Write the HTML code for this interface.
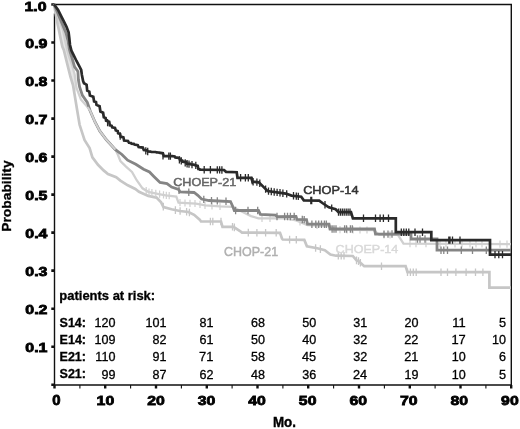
<!DOCTYPE html>
<html><head><meta charset="utf-8"><style>
html,body{margin:0;padding:0;background:#fff;width:520px;height:429px;overflow:hidden;}
body{position:relative;font-family:"Liberation Sans",sans-serif;}
</style></head><body>
<svg width="520" height="429" viewBox="0 0 520 429" style="position:absolute;left:0;top:0;filter:grayscale(1) blur(0.35px)">
<g font-family="Liberation Sans, sans-serif">
<text transform="translate(24.40,11.36) scale(1.1605,1)" font-size="13.70" font-weight="bold" fill="#000" stroke="#000" stroke-width="0.8">1.0</text>
<text transform="translate(25.30,47.89) scale(1.2648,1)" font-size="12.57" font-weight="bold" fill="#000" stroke="#000" stroke-width="0.8">0.9</text>
<text transform="translate(25.30,85.91) scale(1.2648,1)" font-size="12.57" font-weight="bold" fill="#000" stroke="#000" stroke-width="0.8">0.8</text>
<text transform="translate(25.30,123.93) scale(1.2648,1)" font-size="12.57" font-weight="bold" fill="#000" stroke="#000" stroke-width="0.8">0.7</text>
<text transform="translate(25.30,161.95) scale(1.2648,1)" font-size="12.57" font-weight="bold" fill="#000" stroke="#000" stroke-width="0.8">0.6</text>
<text transform="translate(25.30,199.97) scale(1.2648,1)" font-size="12.57" font-weight="bold" fill="#000" stroke="#000" stroke-width="0.8">0.5</text>
<text transform="translate(25.30,237.99) scale(1.2648,1)" font-size="12.57" font-weight="bold" fill="#000" stroke="#000" stroke-width="0.8">0.4</text>
<text transform="translate(25.30,276.00) scale(1.2666,1)" font-size="12.55" font-weight="bold" fill="#000" stroke="#000" stroke-width="0.8">0.3</text>
<text transform="translate(25.30,314.03) scale(1.2648,1)" font-size="12.57" font-weight="bold" fill="#000" stroke="#000" stroke-width="0.8">0.2</text>
<text transform="translate(25.30,352.05) scale(1.2648,1)" font-size="12.57" font-weight="bold" fill="#000" stroke="#000" stroke-width="0.8">0.1</text>
<text transform="translate(52.30,405.36) scale(1.0785,1)" font-size="13.84" font-weight="bold" fill="#000" stroke="#000" stroke-width="0.8">0</text>
<text transform="translate(96.60,405.36) scale(1.1552,1)" font-size="13.70" font-weight="bold" fill="#000" stroke="#000" stroke-width="0.8">10</text>
<text transform="translate(147.16,405.36) scale(1.1552,1)" font-size="13.70" font-weight="bold" fill="#000" stroke="#000" stroke-width="0.8">20</text>
<text transform="translate(197.72,405.35) scale(1.1569,1)" font-size="13.68" font-weight="bold" fill="#000" stroke="#000" stroke-width="0.8">30</text>
<text transform="translate(248.28,405.36) scale(1.1552,1)" font-size="13.70" font-weight="bold" fill="#000" stroke="#000" stroke-width="0.8">40</text>
<text transform="translate(298.84,405.36) scale(1.1552,1)" font-size="13.70" font-weight="bold" fill="#000" stroke="#000" stroke-width="0.8">50</text>
<text transform="translate(349.40,405.36) scale(1.1552,1)" font-size="13.70" font-weight="bold" fill="#000" stroke="#000" stroke-width="0.8">60</text>
<text transform="translate(399.96,405.36) scale(1.1552,1)" font-size="13.70" font-weight="bold" fill="#000" stroke="#000" stroke-width="0.8">70</text>
<text transform="translate(450.52,405.36) scale(1.1552,1)" font-size="13.70" font-weight="bold" fill="#000" stroke="#000" stroke-width="0.8">80</text>
<text transform="translate(501.08,405.36) scale(1.1552,1)" font-size="13.70" font-weight="bold" fill="#000" stroke="#000" stroke-width="0.8">90</text>
<text transform="translate(273.00,427.46) scale(0.9231,1)" font-size="14.47" font-weight="bold" fill="#000" stroke="#000" stroke-width="0.4">Mo.</text>
<text transform="translate(11.39,231.75) rotate(-90) scale(1.0410,1)" font-size="13.29" font-weight="bold" fill="#000" stroke="#000" stroke-width="0.3">Probability</text>
<text transform="translate(59.35,299.99) scale(1.0527,1)" font-size="12.33" font-weight="bold" fill="#000" stroke="#000" stroke-width="0.3">patients at risk:</text>
<text transform="translate(59.55,326.73) scale(1.0576,1)" font-size="11.86" font-weight="bold" fill="#000" stroke="#000" stroke-width="0.3">S14:</text>
<text transform="translate(59.55,344.05) scale(1.0277,1)" font-size="12.21" font-weight="bold" fill="#000" stroke="#000" stroke-width="0.3">E14:</text>
<text transform="translate(59.55,361.15) scale(1.0426,1)" font-size="12.03" font-weight="bold" fill="#000" stroke="#000" stroke-width="0.3">E21:</text>
<text transform="translate(59.55,378.23) scale(1.0576,1)" font-size="11.86" font-weight="bold" fill="#000" stroke="#000" stroke-width="0.3">S21:</text>
</g>
<path d="M54.5,13.5 V385 H511.3 V4.5 H54" fill="none" stroke="#111" stroke-width="1.4"/>
<path d="M51.3,4.5 H54.5 M51.3,42.5 H54.5 M51.3,80.5 H54.5 M51.3,118.6 H54.5 M51.3,156.6 H54.5 M51.3,194.6 H54.5 M51.3,232.6 H54.5 M51.3,270.6 H54.5 M51.3,308.7 H54.5 M51.3,346.7 H54.5 M51.3,384.7 H54.5" stroke="#111" stroke-width="2.6"/>
<path d="M54.5,385 V388.6 M105.2,385 V388.6 M156.0,385 V388.6 M206.8,385 V388.6 M257.5,385 V388.6 M308.2,385 V388.6 M359.0,385 V388.6 M409.8,385 V388.6 M460.5,385 V388.6 M511.2,385 V388.6" stroke="#111" stroke-width="2.4"/>
<path d="M79.9,385 V388.4 M130.6,385 V388.4 M181.4,385 V388.4 M232.1,385 V388.4 M282.9,385 V388.4 M333.6,385 V388.4 M384.4,385 V388.4 M435.1,385 V388.4 M485.9,385 V388.4" stroke="#111" stroke-width="1.1"/>
<path d="M54.0,4.2 L55.0,10.0 L56.5,18.0 L57.8,25.0 L58.9,30.0 L60.5,38.0 L62.4,46.8 L63.8,50.0 L67.0,63.0 L70.5,77.0 L73.0,85.0 L74.5,94.0 L76.5,88.0 L74.6,74.2 L71.8,64.0 L69.5,58.0 L67.2,50.0 L65.0,40.0 L63.1,30.0 L61.0,25.0 L58.5,18.0 L56.0,10.0 L54.0,4.2 Z" fill="#e6e6e6" stroke="none"/>
<path d="M54.0,4.2 L55.0,10.0 L56.5,18.0 L57.8,25.0 L58.9,30.0 L60.5,38.0 L62.4,46.8 L63.8,50.0 L67.0,63.0 L70.5,77.0 L73.0,85.0 L74.5,94.0 L76.8,108.0 L79.6,124.8 L84.5,140.0 L89.6,148.0 L92.4,157.3 L98.0,164.8 L103.6,170.4 L108.0,174.0 L116.2,177.3 L120.4,180.6 L127.8,185.3 L135.3,189.0 L139.0,191.8 L148.3,195.9 L156.5,197.6 L161.1,202.3 L163.5,207.0 L171.6,209.3 L179.8,211.0 L188.5,212.0 L194.1,214.8 L199.7,219.6 L201.0,221.5 L221.0,221.5 L222.5,226.8 L233.5,226.8 L240.0,231.0 L242.0,232.6 L280.0,232.8 L282.0,238.5 L282.8,239.5 L304.3,239.9 L306.9,246.2 L317.3,248.3 L324.8,250.2 L330.4,254.5 L336.0,255.7 L352.8,256.0 L356.5,260.4 L358.7,261.2 L364.2,266.2 L405.6,266.2 L407.5,272.2 L489.4,272.2 L489.4,287.6 L511.0,287.6" fill="none" stroke="#c6c6c6" stroke-width="2.7" stroke-linejoin="miter"/>
<path d="M163.3,202.8 V210.4 M175.4,206.3 V213.9 M180.1,207.2 V214.8 M186.6,208.0 V215.6 M189.4,208.7 V216.3 M210.4,217.7 V225.3 M212.8,217.7 V225.3 M221.0,217.7 V225.3 M232.5,223.0 V230.6 M234.4,223.6 V231.2 M248.3,228.8 V236.4 M256.9,228.9 V236.5 M265.6,228.9 V236.5 M276.2,229.0 V236.6 M289.6,235.8 V243.4 M296.3,236.0 V243.6 M315.6,244.2 V251.8 M320.4,245.3 V252.9 M338.3,251.9 V259.5 M341.2,252.0 V259.6 M344.0,252.0 V259.6 M356.5,256.6 V264.2 M358.5,257.3 V264.9 M360.4,258.9 V266.5 M381.5,262.4 V270.0 M407.5,268.4 V276.0 M410.4,268.4 V276.0 M413.3,268.4 V276.0 M416.2,268.4 V276.0 M441.0,268.4 V276.0 M447.5,268.4 V276.0 M455.9,268.4 V276.0 M466.1,268.4 V276.0 M475.5,268.4 V276.0 M482.9,268.4 V276.0" stroke="#c6c6c6" stroke-width="1.3" fill="none"/>
<path d="M54.0,4.2 L56.0,10.0 L58.5,18.0 L61.0,25.0 L63.1,30.0 L65.0,40.0 L67.2,50.0 L69.5,58.0 L71.8,64.0 L74.6,74.2 L76.5,88.0 L81.0,99.6 L87.5,107.0 L90.1,110.8 L95.0,122.0 L99.9,131.2 L106.4,139.8 L115.4,149.6 L118.0,155.0 L120.4,161.0 L126.0,166.6 L132.0,172.0 L136.7,180.2 L142.5,188.3 L148.3,191.8 L158.8,194.1 L165.8,195.3 L176.3,196.5 L178.5,202.6 L196.0,203.6 L205.3,205.4 L220.0,206.4 L232.4,206.8 L241.7,211.5 L251.0,216.1 L258.5,218.3 L285.0,218.3 L296.2,220.4 L307.4,225.0 L329.8,226.0 L335.4,229.7 L373.7,230.1 L379.3,234.8 L397.9,234.8 L403.5,243.6 L511.0,244.2" fill="none" stroke="#d0d0d0" stroke-width="2.3" stroke-linejoin="miter"/>
<path d="M146.2,186.9 V194.1 M149.0,188.4 V195.6 M151.9,189.0 V196.2 M155.8,189.8 V197.0 M159.6,190.6 V197.8 M163.5,191.3 V198.5 M166.3,191.8 V199.0 M169.2,192.1 V199.3 M180.0,199.1 V206.3 M185.0,199.4 V206.6 M190.0,199.7 V206.9 M195.0,199.9 V207.1 M200.0,200.8 V208.0 M205.0,201.7 V208.9 M212.0,202.3 V209.5 M220.0,202.8 V210.0 M262.0,214.7 V221.9 M270.0,214.7 V221.9 M300.0,218.4 V225.6 M317.0,221.8 V229.0 M340.0,226.1 V233.3 M347.0,226.2 V233.4 M353.0,226.3 V233.5 M360.0,226.4 V233.6 M367.0,226.4 V233.6 M384.0,231.2 V238.4 M390.0,231.2 V238.4 M410.0,240.0 V247.2 M416.0,240.1 V247.3 M426.0,240.1 V247.3 M440.0,240.2 V247.4 M446.0,240.2 V247.4 M455.0,240.3 V247.5 M462.0,240.3 V247.5 M470.0,240.4 V247.6 M476.0,240.4 V247.6 M482.0,240.4 V247.6 M500.0,240.5 V247.7 M507.0,240.6 V247.8" stroke="#d0d0d0" stroke-width="1.2" fill="none"/>
<path d="M54.0,4.2 L56.0,9.0 L58.5,15.0 L61.0,21.0 L63.5,27.0 L66.0,33.0 L68.0,41.0 L69.5,50.0 L72.0,58.0 L74.6,66.8 L77.9,71.4 L78.4,79.8 L79.6,87.0 L82.4,95.4 L87.3,102.4 L90.1,110.8 L95.0,122.0 L99.9,131.2 L106.4,139.8 L115.4,149.6 L121.9,154.5 L127.6,160.2 L135.8,164.3 L143.6,169.2 L149.5,172.0 L154.1,176.7 L160.0,182.5 L167.0,183.6 L171.6,187.1 L178.6,189.5 L180.0,191.8 L194.1,192.5 L197.8,195.3 L201.6,199.0 L209.0,200.5 L230.5,201.5 L233.3,207.7 L234.3,210.5 L258.5,210.5 L260.4,214.3 L275.3,215.2 L277.2,216.6 L296.0,216.4 L297.0,219.4 L306.5,219.6 L307.5,224.2 L329.0,224.2 L330.0,229.0 L374.5,229.0 L375.5,234.2 L411.0,233.8 L411.0,239.0 L437.0,239.0 L437.0,250.2 L511.0,250.2" fill="none" stroke="#858585" stroke-width="2.8" stroke-linejoin="miter"/>
<path d="M179.0,186.5 V193.9 M188.8,188.5 V195.9 M203.8,195.7 V203.1 M211.5,196.9 V204.3 M217.3,197.2 V204.6 M226.0,197.6 V205.0 M235.6,206.8 V214.2 M248.0,206.8 V214.2 M257.7,206.8 V214.2 M277.0,212.8 V220.2 M284.6,212.8 V220.2 M287.5,212.8 V220.2 M290.4,212.8 V220.2 M294.2,212.7 V220.1 M302.3,215.8 V223.2 M304.2,215.9 V223.3 M311.9,220.5 V227.9 M315.8,220.5 V227.9 M318.7,220.5 V227.9 M321.5,220.5 V227.9 M324.4,220.5 V227.9 M326.3,220.5 V227.9 M332.1,225.3 V232.7 M334.0,225.3 V232.7 M336.0,225.3 V232.7 M344.6,225.3 V232.7 M346.5,225.3 V232.7 M350.4,225.3 V232.7 M352.3,225.3 V232.7 M384.0,230.4 V237.8 M388.0,230.4 V237.8 M392.0,230.3 V237.7 M417.5,235.3 V242.7 M420.0,235.3 V242.7 M425.0,235.3 V242.7 M441.0,246.5 V253.9 M443.8,246.5 V253.9 M447.5,246.5 V253.9 M461.3,246.5 V253.9 M472.5,246.5 V253.9 M486.3,246.5 V253.9" stroke="#858585" stroke-width="1.3" fill="none"/>
<path d="M54.0,4.2 L55.8,6.8 L58.1,10.0 L60.9,15.6 L63.7,21.2 L66.5,26.8 L68.6,32.4 L69.3,38.0 L70.0,45.0 L71.4,50.6 L73.5,54.8 L76.5,61.0 L79.5,66.5 L81.2,70.0 L81.9,75.0 L83.1,81.0 L84.0,83.2 L86.6,84.7 L87.2,90.6 L89.3,91.6 L89.9,95.6 L93.3,96.8 L94.1,101.4 L96.0,102.1 L96.5,104.9 L99.6,106.2 L100.4,111.5 L103.1,112.7 L103.8,117.2 L105.6,117.9 L106.1,120.8 L109.2,121.8 L109.9,125.4 L111.7,125.8 L112.2,127.4 L115.0,128.0 L115.8,130.5 L117.7,131.0 L118.1,133.2 L120.1,133.9 L120.6,136.6 L123.4,137.4 L124.1,140.5 L128.0,141.0 L129.0,142.8 L131.0,143.0 L131.5,143.7 L133.8,143.9 L134.4,144.6 L137.8,145.1 L138.6,147.0 L142.8,147.6 L143.8,150.1 L147.1,150.4 L147.9,151.5 L150.6,151.6 L151.3,151.9 L155.6,152.0 L156.6,152.4 L158.5,152.5 L159.0,152.6 L162.9,153.3 L163.9,156.1 L166.4,156.1 L167.0,156.1 L169.1,156.1 L169.6,156.1 L171.7,156.1 L172.2,156.1 L174.7,156.4 L175.3,157.4 L179.2,158.0 L180.1,160.3 L182.3,160.6 L182.9,161.7 L186.1,162.1 L186.9,163.7 L190.3,163.8 L191.1,164.5 L193.8,164.6 L194.5,165.1 L197.7,165.9 L198.4,169.1 L199.7,169.2 L200.0,169.6 L224.0,170.0 L226.0,171.8 L236.7,172.2 L237.5,177.8 L251.2,177.8 L252.5,181.7 L258.8,182.3 L263.7,187.1 L267.5,191.0 L285.8,193.6 L291.5,195.6 L301.2,196.7 L303.8,200.4 L319.2,200.6 L323.1,203.5 L328.8,207.3 L335.6,209.2 L338.5,212.1 L351.0,212.1 L352.9,218.3 L395.8,218.3 L395.8,232.2 L431.3,232.2 L431.3,240.1 L490.0,240.1 L490.0,254.6 L511.0,254.6" fill="none" stroke="#2a2a2a" stroke-width="2.7" stroke-linejoin="miter"/>
<path d="M107.6,118.9 V126.3 M120.2,132.3 V139.7 M145.8,147.2 V154.6 M147.7,147.8 V155.2 M163.0,152.0 V159.4 M168.8,152.4 V159.8 M170.4,152.4 V159.8 M179.4,156.2 V163.6 M181.3,157.2 V164.6 M185.2,159.2 V166.6 M187.1,160.0 V167.4 M189.0,160.4 V167.8 M192.0,160.9 V168.3 M195.8,161.7 V169.1 M204.2,166.0 V173.4 M210.4,166.1 V173.5 M217.3,166.2 V173.6 M219.6,166.2 V173.6 M221.9,166.3 V173.7 M240.6,174.1 V181.5 M245.4,174.1 V181.5 M248.3,174.1 V181.5 M252.1,176.8 V184.2 M253.1,178.1 V185.5 M256.9,178.4 V185.8 M259.8,179.6 V187.0 M265.6,185.4 V192.8 M268.5,187.4 V194.8 M271.3,187.8 V195.2 M274.2,188.3 V195.7 M277.1,188.7 V196.1 M280.0,189.1 V196.5 M282.9,189.5 V196.9 M286.7,190.2 V197.6 M293.5,192.1 V199.5 M296.3,192.4 V199.8 M298.3,192.7 V200.1 M310.8,196.8 V204.2 M311.7,196.8 V204.2 M325.0,201.1 V208.5 M331.7,204.4 V211.8 M338.5,208.4 V215.8 M340.4,208.4 V215.8 M342.3,208.4 V215.8 M344.2,208.4 V215.8 M346.2,208.4 V215.8 M348.1,208.4 V215.8 M350.0,208.4 V215.8 M363.5,214.6 V222.0 M375.5,214.6 V222.0 M380.1,214.6 V222.0 M383.4,214.6 V222.0 M388.5,214.6 V222.0 M401.3,228.5 V235.9 M403.8,228.5 V235.9 M406.3,228.5 V235.9 M408.8,228.5 V235.9 M415.0,228.5 V235.9 M422.5,228.5 V235.9 M448.8,236.4 V243.8 M450.0,236.4 V243.8 M452.5,236.4 V243.8 M460.0,236.4 V243.8 M495.0,250.9 V258.3 M498.8,250.9 V258.3 M502.5,250.9 V258.3" stroke="#2a2a2a" stroke-width="1.3" fill="none"/>
<path d="M87.5,107.0 L90.1,110.8 L95.0,122.0 L99.9,131.2 L106.4,139.8 L115.4,149.6" fill="none" stroke="#d0d0d0" stroke-width="2.0" stroke-linejoin="miter"/>
<g font-family="Liberation Sans, sans-serif">
<text transform="translate(173.15,185.93) scale(1.0778,1)" font-size="11.72" font-weight="normal" fill="#666" stroke="#666" stroke-width="0.5">CHOEP-21</text>
<text transform="translate(303.15,193.63) scale(1.0901,1)" font-size="11.72" font-weight="normal" fill="#333" stroke="#333" stroke-width="0.5">CHOP-14</text>
<text transform="translate(224.03,255.55) scale(0.9772,1)" font-size="12.78" font-weight="normal" fill="#b0b0b0" stroke="#b0b0b0" stroke-width="0.45">CHOP-21</text>
<text transform="translate(335.62,252.86) scale(1.0898,1)" font-size="11.51" font-weight="normal" fill="#d9d9d9" stroke="#d9d9d9" stroke-width="0.45">CHOEP-14</text>
</g>
<g font-family="Liberation Sans, sans-serif">
<text transform="translate(94.43,327.00) scale(1.035,1)" font-size="12.15" stroke="#000" stroke-width="0.3">120</text>
<text transform="translate(145.53,327.00) scale(1.035,1)" font-size="12.15" stroke="#000" stroke-width="0.3">101</text>
<text transform="translate(199.52,327.00) scale(1.035,1)" font-size="12.15" stroke="#000" stroke-width="0.3">81</text>
<text transform="translate(251.02,327.00) scale(1.035,1)" font-size="12.15" stroke="#000" stroke-width="0.3">68</text>
<text transform="translate(302.22,327.00) scale(1.035,1)" font-size="12.15" stroke="#000" stroke-width="0.3">50</text>
<text transform="translate(353.22,327.00) scale(1.035,1)" font-size="12.15" stroke="#000" stroke-width="0.3">31</text>
<text transform="translate(404.42,327.00) scale(1.035,1)" font-size="12.15" stroke="#000" stroke-width="0.3">20</text>
<text transform="translate(452.37,327.00) scale(1.035,1)" font-size="12.50" stroke="#000" stroke-width="0.3">11</text>
<text transform="translate(498.91,327.00) scale(1.035,1)" font-size="12.32" stroke="#000" stroke-width="0.3">5</text>
<text transform="translate(94.43,344.20) scale(1.035,1)" font-size="12.15" stroke="#000" stroke-width="0.3">109</text>
<text transform="translate(152.52,344.20) scale(1.035,1)" font-size="12.15" stroke="#000" stroke-width="0.3">82</text>
<text transform="translate(199.52,344.20) scale(1.035,1)" font-size="12.15" stroke="#000" stroke-width="0.3">61</text>
<text transform="translate(251.02,344.20) scale(1.035,1)" font-size="12.15" stroke="#000" stroke-width="0.3">50</text>
<text transform="translate(302.22,344.20) scale(1.035,1)" font-size="12.15" stroke="#000" stroke-width="0.3">40</text>
<text transform="translate(353.22,344.20) scale(1.035,1)" font-size="12.15" stroke="#000" stroke-width="0.3">32</text>
<text transform="translate(404.22,344.20) scale(1.035,1)" font-size="12.32" stroke="#000" stroke-width="0.3">22</text>
<text transform="translate(451.41,344.20) scale(1.035,1)" font-size="12.50" stroke="#000" stroke-width="0.3">17</text>
<text transform="translate(492.02,344.20) scale(1.035,1)" font-size="12.15" stroke="#000" stroke-width="0.3">10</text>
<text transform="translate(95.36,361.30) scale(1.035,1)" font-size="12.15" stroke="#000" stroke-width="0.3">110</text>
<text transform="translate(152.52,361.30) scale(1.035,1)" font-size="12.15" stroke="#000" stroke-width="0.3">91</text>
<text transform="translate(199.11,361.30) scale(1.035,1)" font-size="12.50" stroke="#000" stroke-width="0.3">71</text>
<text transform="translate(251.02,361.30) scale(1.035,1)" font-size="12.15" stroke="#000" stroke-width="0.3">58</text>
<text transform="translate(302.02,361.30) scale(1.035,1)" font-size="12.32" stroke="#000" stroke-width="0.3">45</text>
<text transform="translate(353.22,361.30) scale(1.035,1)" font-size="12.15" stroke="#000" stroke-width="0.3">32</text>
<text transform="translate(404.22,361.30) scale(1.035,1)" font-size="12.32" stroke="#000" stroke-width="0.3">21</text>
<text transform="translate(451.82,361.30) scale(1.035,1)" font-size="12.15" stroke="#000" stroke-width="0.3">10</text>
<text transform="translate(499.01,361.30) scale(1.035,1)" font-size="12.15" stroke="#000" stroke-width="0.3">6</text>
<text transform="translate(101.42,378.50) scale(1.035,1)" font-size="12.15" stroke="#000" stroke-width="0.3">99</text>
<text transform="translate(152.52,378.50) scale(1.035,1)" font-size="12.15" stroke="#000" stroke-width="0.3">87</text>
<text transform="translate(199.52,378.50) scale(1.035,1)" font-size="12.15" stroke="#000" stroke-width="0.3">62</text>
<text transform="translate(251.02,378.50) scale(1.035,1)" font-size="12.15" stroke="#000" stroke-width="0.3">48</text>
<text transform="translate(302.22,378.50) scale(1.035,1)" font-size="12.15" stroke="#000" stroke-width="0.3">36</text>
<text transform="translate(353.02,378.50) scale(1.035,1)" font-size="12.32" stroke="#000" stroke-width="0.3">24</text>
<text transform="translate(404.42,378.50) scale(1.035,1)" font-size="12.15" stroke="#000" stroke-width="0.3">19</text>
<text transform="translate(451.82,378.50) scale(1.035,1)" font-size="12.15" stroke="#000" stroke-width="0.3">10</text>
<text transform="translate(498.91,378.50) scale(1.035,1)" font-size="12.32" stroke="#000" stroke-width="0.3">5</text>
</g>
</svg>
</body></html>
